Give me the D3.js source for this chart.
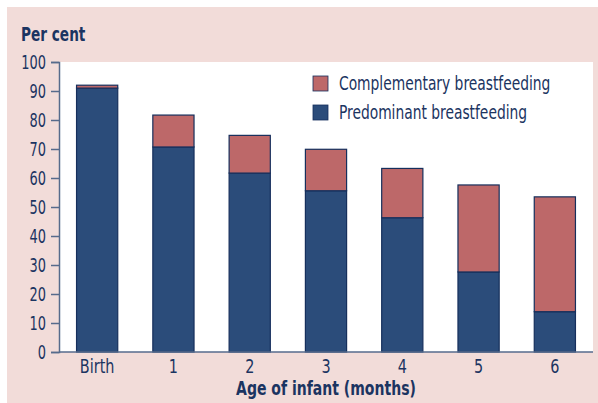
<!DOCTYPE html>
<html>
<head>
<meta charset="utf-8">
<script src="https://cdn.jsdelivr.net/npm/d3@7"></script>
<style>
  body { margin: 0; background: #fff; }
  text { font-family: "DejaVu Sans Condensed", "DejaVu Sans", sans-serif; font-stretch: condensed; fill: #1b3461; }
</style>
</head>
<body>
<svg id="chart" width="598" height="403"></svg>
<script>
// data
var ages = ['Birth', '1', '2', '3', '4', '5', '6'];
var predominant = [91, 70.7, 61.7, 55.6, 46.3, 27.6, 13.9];
var complementary = [1, 11, 13, 14.3, 17, 30, 39.6];
var yTicks = [0, 10, 20, 30, 40, 50, 60, 70, 80, 90, 100];
var seriesNames = ['Complementary breastfeeding', 'Predominant breastfeeding'];

var blue = '#2b4c7a', red = '#bd6869', ink = '#1b3461';

// squeeze text sideways, the original uses a narrow typeface
function narrow(sel, origin, k) {
    sel.style('transform-box', 'fill-box')
        .style('transform-origin', origin)
        .style('transform', 'scaleX(' + k + ')');
}

var svg = d3.select('#chart');

// pink panel
svg.append('rect')
    .attr('x', 7).attr('y', 7)
    .attr('width', 591).attr('height', 396)
    .style('fill', '#f2dcd9');

var plotLeft = 59, plotRight = 593, plotTop = 62, plotBottom = 352;

// white plot area
svg.append('rect')
    .attr('x', plotLeft).attr('y', plotTop)
    .attr('width', plotRight - plotLeft).attr('height', plotBottom - plotTop)
    .style('fill', '#fff');

var x = d3.scaleBand().domain(ages).range([plotLeft, plotRight]).paddingInner(0.46).paddingOuter(0.23);
var y = d3.scaleLinear().domain([0, 100]).range([plotBottom, plotTop]);

var rows = ages.map(function (a, i) {
    return { age: a, pred: predominant[i], comp: complementary[i] };
});

var g = svg.append('g');

g.selectAll('rect.pred')
    .data(rows)
    .enter()
    .append('rect')
    .attr('class', 'pred')
    .attr('x', function (d) { return x(d.age); })
    .attr('y', function (d) { return y(d.pred); })
    .attr('width', x.bandwidth())
    .attr('height', function (d) { return y(0) - y(d.pred); })
    .style('fill', blue)
    .style('stroke', '#162f5c')
    .style('stroke-width', 1.2);

g.selectAll('rect.comp')
    .data(rows)
    .enter()
    .append('rect')
    .attr('class', 'comp')
    .attr('x', function (d) { return x(d.age); })
    .attr('y', function (d) { return y(d.pred + d.comp); })
    .attr('width', x.bandwidth())
    .attr('height', function (d) { return y(d.pred) - y(d.pred + d.comp); })
    .style('fill', red)
    .style('stroke', '#162f5c')
    .style('stroke-width', 1.2);

// y axis
var yAxis = svg.append('g')
    .attr('transform', 'translate(' + plotLeft + ',0)')
    .call(d3.axisLeft(y).tickValues(yTicks).tickSize(8).tickPadding(5));
yAxis.select('.domain').style('stroke', '#566b8c').style('stroke-width', 1.5);
yAxis.selectAll('.tick line').style('stroke', '#566b8c').style('stroke-width', 1.5);
yAxis.selectAll('.tick text').style('font-size', '20px').style('fill', ink).attr('dy', '0.34em')
    .call(narrow, 'right center', 0.72);

// x axis
var xAxis = svg.append('g')
    .attr('transform', 'translate(0,' + plotBottom + ')')
    .call(d3.axisBottom(x).tickSize(0).tickPadding(7));
xAxis.select('.domain').attr('d', 'M' + plotLeft + ',0H' + plotRight)
    .style('stroke', '#566b8c').style('stroke-width', 1.5);
xAxis.selectAll('.tick text').style('font-size', '20px').style('fill', ink)
    .call(narrow, 'center', 0.8);
svg.selectAll('.tick text').attr('font-family', null);

// titles
svg.append('text')
    .attr('x', 21).attr('y', 41)
    .style('font-size', '20px').style('font-weight', 'bold')
    .text('Per cent')
    .call(narrow, 'left center', 0.76);

svg.append('text')
    .attr('x', (plotLeft + plotRight) / 2).attr('y', 395)
    .attr('text-anchor', 'middle')
    .style('font-size', '20px').style('font-weight', 'bold')
    .text('Age of infant (months)')
    .call(narrow, 'center', 0.78);

// legend
var legend = svg.append('g').attr('transform', 'translate(313,76)');
[red, blue].forEach(function (c, i) {
    legend.append('rect')
        .attr('x', 0).attr('y', i * 29)
        .attr('width', 15).attr('height', 15)
        .style('fill', c)
        .style('stroke', '#162f5c')
        .style('stroke-width', 0.8);
    legend.append('text')
        .attr('x', 26).attr('y', i * 29 + 14)
        .style('font-size', '19px')
        .text(seriesNames[i])
        .call(narrow, 'left center', 0.81);
});
</script>
</body>
</html>
